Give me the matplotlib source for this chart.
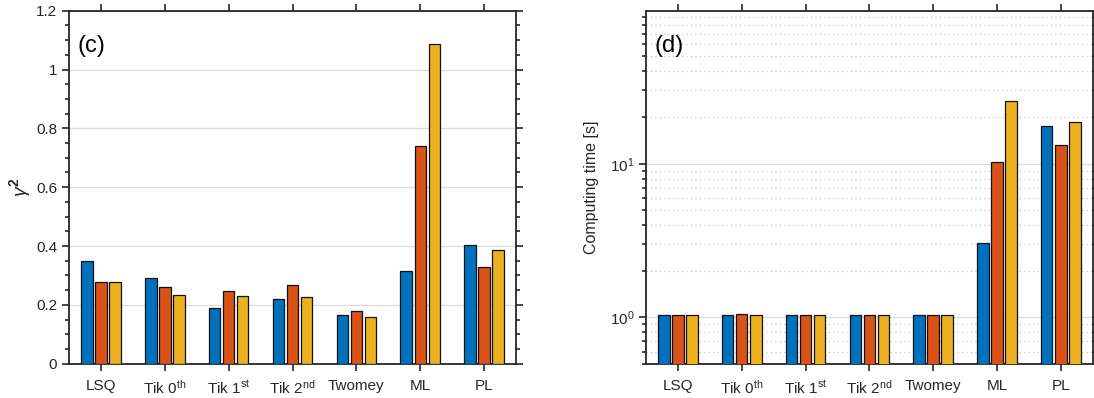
import matplotlib
matplotlib.use("Agg")
import matplotlib.pyplot as plt
import numpy as np
from matplotlib.ticker import MultipleLocator, LogLocator, NullFormatter, FixedLocator

plt.rcParams['font.family'] = ['Liberation Sans', 'DejaVu Sans']
plt.rcParams['mathtext.fontset'] = 'custom'
plt.rcParams['mathtext.rm'] = 'Liberation Sans'
plt.rcParams['mathtext.it'] = 'Liberation Sans:italic'
plt.rcParams['mathtext.bf'] = 'Liberation Sans:bold'

categories = ['LSQ', r'Tik 0$^{\mathrm{th}}$', r'Tik 1$^{\mathrm{st}}$', r'Tik 2$^{\mathrm{nd}}$',
              'Twomey', 'ML', 'PL']

# gamma^2 values (three series)
gamma_s1 = [0.349, 0.290, 0.190, 0.219, 0.164, 0.315, 0.404]
gamma_s2 = [0.279, 0.262, 0.246, 0.266, 0.179, 0.740, 0.328]
gamma_s3 = [0.279, 0.235, 0.230, 0.228, 0.158, 1.088, 0.385]
gamma_ticks = [0, 0.2, 0.4, 0.6, 0.8, 1.0, 1.2]
gamma_ticklabels = ['0', '0.2', '0.4', '0.6', '0.8', '1', '1.2']

# computing time [s]
time_s1 = [1.04, 1.04, 1.04, 1.04, 1.04, 3.03, 17.7]
time_s2 = [1.04, 1.05, 1.04, 1.04, 1.04, 10.2, 13.2]
time_s3 = [1.04, 1.04, 1.04, 1.04, 1.04, 25.5, 18.6]

colors = ['#0072BD', '#D95319', '#EDB120']
axcol = '#262626'

fig = plt.figure(figsize=(10.94, 3.98), dpi=100)
ax1 = fig.add_axes([0.0631, 0.0862, 0.4086, 0.8869])
ax2 = fig.add_axes([0.5905, 0.0862, 0.4083, 0.8869])

x = np.arange(1, len(categories) + 1)
offs = [-0.22, 0.0, 0.22]
bw = 0.18


def style(ax):
    for s in ax.spines.values():
        s.set_color(axcol)
        s.set_linewidth(1.3)
    ax.tick_params(which='both', direction='out', colors=axcol, top=True, right=True,
                   labelsize=11, width=1.2)
    ax.tick_params(which='major', length=5)
    ax.tick_params(which='minor', length=3)
    ax.tick_params(axis='x', which='minor', top=False, bottom=False)
    ax.tick_params(axis='x', pad=6)
    ax.set_xlim(0.5, 7.5)
    ax.set_xticks(x)
    ax.set_xticklabels(categories)
    ax.set_axisbelow(True)


for ser, o, c in zip([gamma_s1, gamma_s2, gamma_s3], offs, colors):
    ax1.bar(x + o, ser, bw, color=c, edgecolor='#111111', linewidth=0.9, zorder=3)
style(ax1)
ax1.set_ylim(0, 1.2)
ax1.set_yticks(gamma_ticks)
ax1.set_yticklabels(gamma_ticklabels)
ax1.yaxis.set_minor_locator(MultipleLocator(0.05))
ax1.yaxis.grid(True, which='major', color='#dcdcdc', linewidth=1.0)
ax1.set_ylabel(r'$\gamma^{\mathbf{2}}$', fontsize=14, color=axcol, labelpad=2)
ax1.text(0.02, 0.93, '(c)', transform=ax1.transAxes, fontsize=17, va='top', ha='left',
         color='black')

for ser, o, c in zip([time_s1, time_s2, time_s3], offs, colors):
    ax2.bar(x + o, ser, bw, color=c, edgecolor='#111111', linewidth=0.9, zorder=3)
ax2.set_yscale('log')
style(ax2)
ax2.set_ylim(0.5, 99)
ax2.yaxis.set_major_locator(FixedLocator([1, 10]))
ax2.yaxis.set_minor_locator(LogLocator(base=10, subs=np.arange(2, 10), numticks=10))
ax2.yaxis.set_minor_formatter(NullFormatter())
ax2.yaxis.grid(True, which='major', color='#dcdcdc', linewidth=1.0)
ax2.yaxis.grid(True, which='minor', color='#bdbdbd', linewidth=0.8, linestyle=(0, (1, 3)))
ax2.set_ylabel('Computing time [s]', fontsize=11.5, color=axcol, labelpad=8)
ax2.text(0.02, 0.93, '(d)', transform=ax2.transAxes, fontsize=17, va='top', ha='left',
         color='black')

fig.savefig('out.png', dpi=100)
